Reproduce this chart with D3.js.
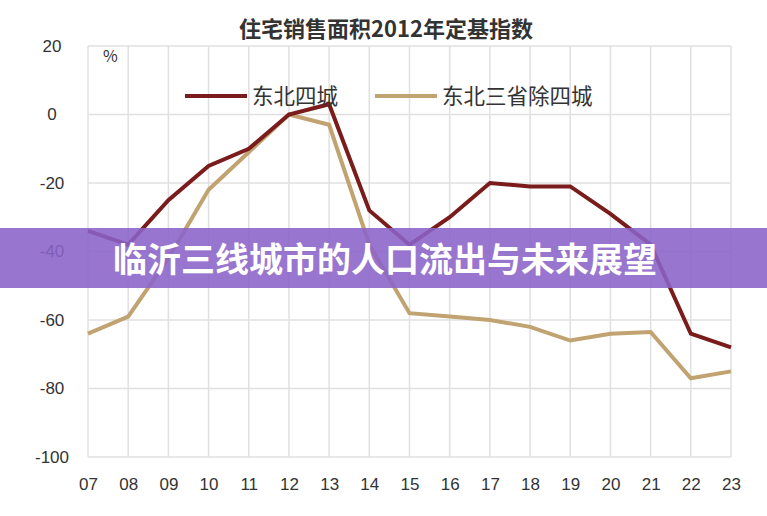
<!DOCTYPE html>
<html><head><meta charset="utf-8">
<script src="https://cdn.jsdelivr.net/npm/d3@7"></script>
<style>body{margin:0;background:#fff;font-family:"Noto Sans CJK SC","Noto Sans",sans-serif}</style>
</head><body><div id="chart"></div>
<script>
var years = ["07","08","09","10","11","12","13","14","15","16","17","18","19","20","21","22","23"];
var northeast4 = [-34,-38,-25,-15,-10,0,3,-28,-38,-30,-20,-21,-21,-29,-38,-64,-68];
var northeastRest = [-64,-59,-42,-22,-11,0,-3,-38,-58,-59,-60,-62,-66,-64,-63.5,-77,-75];
var yTicks = [20,0,-20,-40,-60,-80,-100];

var W = 767, H = 516;
var svg = d3.select("#chart").append("svg").attr("width", W).attr("height", H);

var x = d3.scalePoint().domain(years).range([88, 731]);
var y = d3.scaleLinear().domain([-100, 20]).range([457, 46]);

// grid
svg.append("g").selectAll("line").data(yTicks).enter().append("line")
  .attr("x1", 88).attr("x2", 731)
  .attr("y1", d => y(d)).attr("y2", d => y(d))
  .attr("stroke", "#e0e0e0").attr("stroke-width", 1.5);
svg.append("g").selectAll("line").data(years).enter().append("line")
  .attr("x1", d => x(d)).attr("x2", d => x(d))
  .attr("y1", y(20)).attr("y2", y(-100))
  .attr("stroke", "#e0e0e0").attr("stroke-width", 1.5);

var yAxis = svg.append("g").attr("transform", "translate(68,0)")
  .call(d3.axisLeft(y).tickValues(yTicks).tickFormat(d => String(d)).tickSize(0).tickPadding(0));
yAxis.select(".domain").remove();
yAxis.selectAll("text").attr("font-size", 17).attr("fill", "#333")
  .attr("font-family", "Liberation Sans, Arial, sans-serif").attr("text-anchor", "middle").attr("dx", -16);

var xAxis = svg.append("g").attr("transform", "translate(0,472)")
  .call(d3.axisBottom(x).tickSize(0).tickPadding(6));
xAxis.select(".domain").remove();
xAxis.selectAll("text").attr("font-size", 17).attr("fill", "#333")
  .attr("font-family", "Liberation Sans, Arial, sans-serif");

var line = d3.line().x((d, i) => x(years[i])).y(d => y(d));
svg.append("path").datum(northeastRest).attr("d", line)
  .attr("fill", "none").attr("stroke", "#c0a370").attr("stroke-width", 4);
svg.append("path").datum(northeast4).attr("d", line)
  .attr("fill", "none").attr("stroke", "#7a1c1c").attr("stroke-width", 4);

svg.append("text").attr("x", 386).attr("y", 37).attr("text-anchor", "middle")
  .attr("font-size", 22).attr("font-weight", "bold").attr("fill", "#333").text("住宅销售面积2012年定基指数");
svg.append("text").attr("x", 103).attr("y", 62).attr("font-size", 16).attr("fill", "#333").text("%");

var legend = [["东北四城", "#7a1c1c", 185], ["东北三省除四城", "#c0a370", 375]];
legend.forEach(function(l) {
  svg.append("line").attr("x1", l[2]).attr("x2", l[2] + 62).attr("y1", 96).attr("y2", 96)
    .attr("stroke", l[1]).attr("stroke-width", 4);
  svg.append("text").attr("x", l[2] + 67).attr("y", 104).attr("font-size", 21.5).attr("fill", "#333").text(l[0]);
});

// banner
svg.append("rect").attr("x", 0).attr("y", 228).attr("width", W).attr("height", 60)
  .attr("fill", "#8a63c8").attr("opacity", 0.88);
svg.append("text").attr("x", 385).attr("y", 272).attr("text-anchor", "middle")
  .attr("font-size", 34).attr("font-weight", "bold").attr("fill", "#fff").text("临沂三线城市的人口流出与未来展望");
</script></body></html>
